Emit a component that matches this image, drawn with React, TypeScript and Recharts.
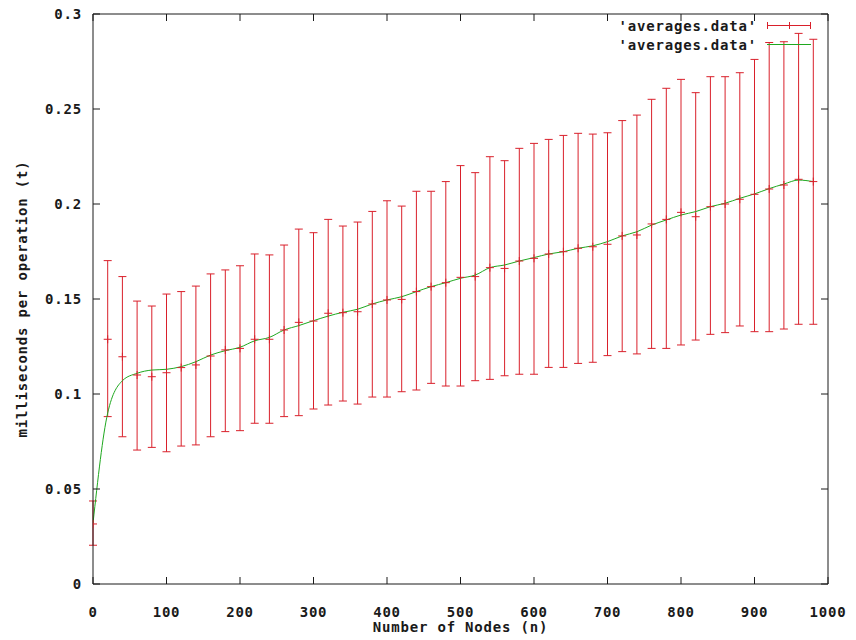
import { ComposedChart, ErrorBar, Legend, Line, Scatter, XAxis, YAxis } from "recharts";

// one row per measured node count
const nodes = [
  0, 20, 40, 60, 80, 100, 120, 140, 160, 180, 200, 220, 240, 260, 280, 300, 320, 340, 360, 380, 400, 420, 440, 460, 480,
  500, 520, 540, 560, 580, 600, 620, 640, 660, 680, 700, 720, 740, 760, 780, 800, 820, 840, 860, 880, 900, 920, 940, 960, 980,
];
const means = [
  0.0316, 0.1288, 0.1196, 0.11, 0.1091, 0.1112, 0.1139, 0.1153, 0.12, 0.1232, 0.124, 0.1288, 0.1288, 0.1337, 0.1377,
  0.1384, 0.1425, 0.1428, 0.1433, 0.1474, 0.1495, 0.1498, 0.1539, 0.1565, 0.1586, 0.1614, 0.1618, 0.1665, 0.1661, 0.17,
  0.1714, 0.1737, 0.1749, 0.1767, 0.1775, 0.1788, 0.1832, 0.1837, 0.1895, 0.1919, 0.1956, 0.1933, 0.1986, 0.2, 0.2025,
  0.2051, 0.2079, 0.21, 0.213, 0.2118,
];
const lows = [
  0.0204, 0.0881, 0.0775, 0.0705, 0.0719, 0.0696, 0.0726, 0.0732, 0.0775, 0.0802, 0.0807, 0.0846, 0.0846, 0.0881, 0.0886,
  0.0921, 0.0942, 0.0963, 0.0947, 0.0984, 0.0984, 0.1012, 0.1021, 0.1056, 0.1042, 0.1042, 0.107, 0.1077, 0.1096, 0.1104,
  0.1104, 0.114, 0.114, 0.1161, 0.1167, 0.1202, 0.1223, 0.1211, 0.124, 0.124, 0.1258, 0.1284, 0.1314, 0.1323, 0.1358,
  0.1328, 0.1328, 0.1342, 0.1367, 0.1367,
];
const highs = [
  0.0437, 0.1702, 0.1618, 0.1489, 0.1463, 0.1526, 0.1539, 0.1568, 0.1632, 0.1653, 0.1675, 0.1737, 0.1732, 0.1784, 0.1868,
  0.1849, 0.1919, 0.1884, 0.1905, 0.1961, 0.2017, 0.1989, 0.2067, 0.2067, 0.2118, 0.2202, 0.2165, 0.2249, 0.2228, 0.2293,
  0.2319, 0.234, 0.2361, 0.2372, 0.2368, 0.2375, 0.2439, 0.2468, 0.2551, 0.2609, 0.2656, 0.2586, 0.267, 0.267, 0.2691,
  0.2761, 0.285, 0.2854, 0.2898, 0.2867,
];
const smoothed = [
  0.032, 0.09, 0.107, 0.1109, 0.1126, 0.113, 0.1144, 0.117, 0.1205, 0.1228, 0.1246, 0.128, 0.1298, 0.1337, 0.136, 0.1386,
  0.141, 0.143, 0.1446, 0.1474, 0.1495, 0.1512, 0.1539, 0.1565, 0.1586, 0.1609, 0.1626, 0.1665, 0.1679, 0.17, 0.1718,
  0.1737, 0.1749, 0.1767, 0.178, 0.1802, 0.1832, 0.1854, 0.1889, 0.1916, 0.1942, 0.196, 0.1986, 0.2004, 0.203, 0.2053,
  0.2081, 0.2105, 0.2126, 0.2118,
];

const xTicks = [0, 100, 200, 300, 400, 500, 600, 700, 800, 900, 1000];
const yTicks = [0, 0.05, 0.1, 0.15, 0.2, 0.25, 0.3];
const seriesName = "'averages.data'";
const xTitle = "Number of Nodes (n)";
const yTitle = "milliseconds per operation (t)";

const RED = "#d9202b";
const GREEN = "#1fa81f";
const INK = "#1a1a1a";
const font = { fontFamily: "'DejaVu Sans Mono', monospace", fontWeight: 700, fontSize: 14, letterSpacing: 0.8 };

const rows = nodes.map((n, i) => ({
  n,
  mean: means[i],
  err: [means[i] - lows[i], highs[i] - means[i]],
  smooth: smoothed[i],
}));

function Plus({ cx, cy }: { cx?: number; cy?: number }) {
  if (cx == null || cy == null) return null;
  return (
    <g stroke={RED} strokeWidth={1}>
      <line x1={cx - 4} x2={cx + 4} y1={cy} y2={cy} />
      <line x1={cx} x2={cx} y1={cy - 4} y2={cy + 4} />
    </g>
  );
}

function Key() {
  return (
    <svg width={240} height={56} style={{ display: "block" }}>
      <text x={160} y={31} textAnchor="end" fill={INK} {...font}>
        {seriesName}
      </text>
      <g stroke={RED} strokeWidth={1}>
        <line x1={170} x2={214} y1={25.5} y2={25.5} />
        <line x1={170.5} x2={170.5} y1={22} y2={29} />
        <line x1={213.5} x2={213.5} y1={22} y2={29} />
        <line x1={192.5} x2={192.5} y1={22} y2={29} />
      </g>
      <text x={160} y={50} textAnchor="end" fill={INK} {...font}>
        {seriesName}
      </text>
      <line x1={170} x2={214} y1={44.5} y2={44.5} stroke={GREEN} strokeWidth={1} />
    </svg>
  );
}

export default function App() {
  const tick = { fill: INK, ...font };
  return (
    <div style={{ position: "absolute", left: 0, top: 0 }}>
      <ComposedChart width={856} height={640} data={rows} margin={{ top: 13, right: 27, bottom: 0, left: 0 }}>
        <XAxis
          dataKey="n"
          type="number"
          domain={[0, 1000]}
          ticks={xTicks}
          height={56}
          tickSize={-7}
          tickMargin={30}
          stroke={INK}
          tick={tick}
          allowDataOverflow
          label={{ value: xTitle, position: "insideBottom", offset: 8, fill: INK, style: font }}
        />
        <XAxis
          xAxisId="top"
          orientation="top"
          dataKey="n"
          type="number"
          domain={[0, 1000]}
          ticks={xTicks}
          height={1}
          tickSize={-7}
          stroke={INK}
          tickFormatter={() => ""}
          allowDataOverflow
        />
        <YAxis
          type="number"
          domain={[0, 0.3]}
          ticks={yTicks}
          width={93}
          tickSize={-7}
          tickMargin={18}
          stroke={INK}
          tick={tick}
          allowDataOverflow
          label={{
            value: yTitle,
            angle: -90,
            position: "insideLeft",
            offset: 22,
            fill: INK,
            style: { ...font, textAnchor: "middle" },
          }}
        />
        <YAxis
          yAxisId="right"
          orientation="right"
          type="number"
          domain={[0, 0.3]}
          ticks={yTicks}
          width={1}
          tickSize={-7}
          stroke={INK}
          tickFormatter={() => ""}
          allowDataOverflow
        />
        <Legend
          layout="horizontal"
          align="center"
          verticalAlign="middle"
          content={() => <Key />}
          wrapperStyle={{ left: 597, top: 0, width: 240, height: 56 }}
        />
        <Scatter dataKey="mean" shape={<Plus />} isAnimationActive={false}>
          <ErrorBar dataKey="err" direction="y" width={4} stroke={RED} strokeWidth={1} isAnimationActive={false} />
        </Scatter>
        <Line
          dataKey="smooth"
          type="monotone"
          stroke={GREEN}
          strokeWidth={1}
          dot={false}
          activeDot={false}
          isAnimationActive={false}
        />
      </ComposedChart>
    </div>
  );
}
